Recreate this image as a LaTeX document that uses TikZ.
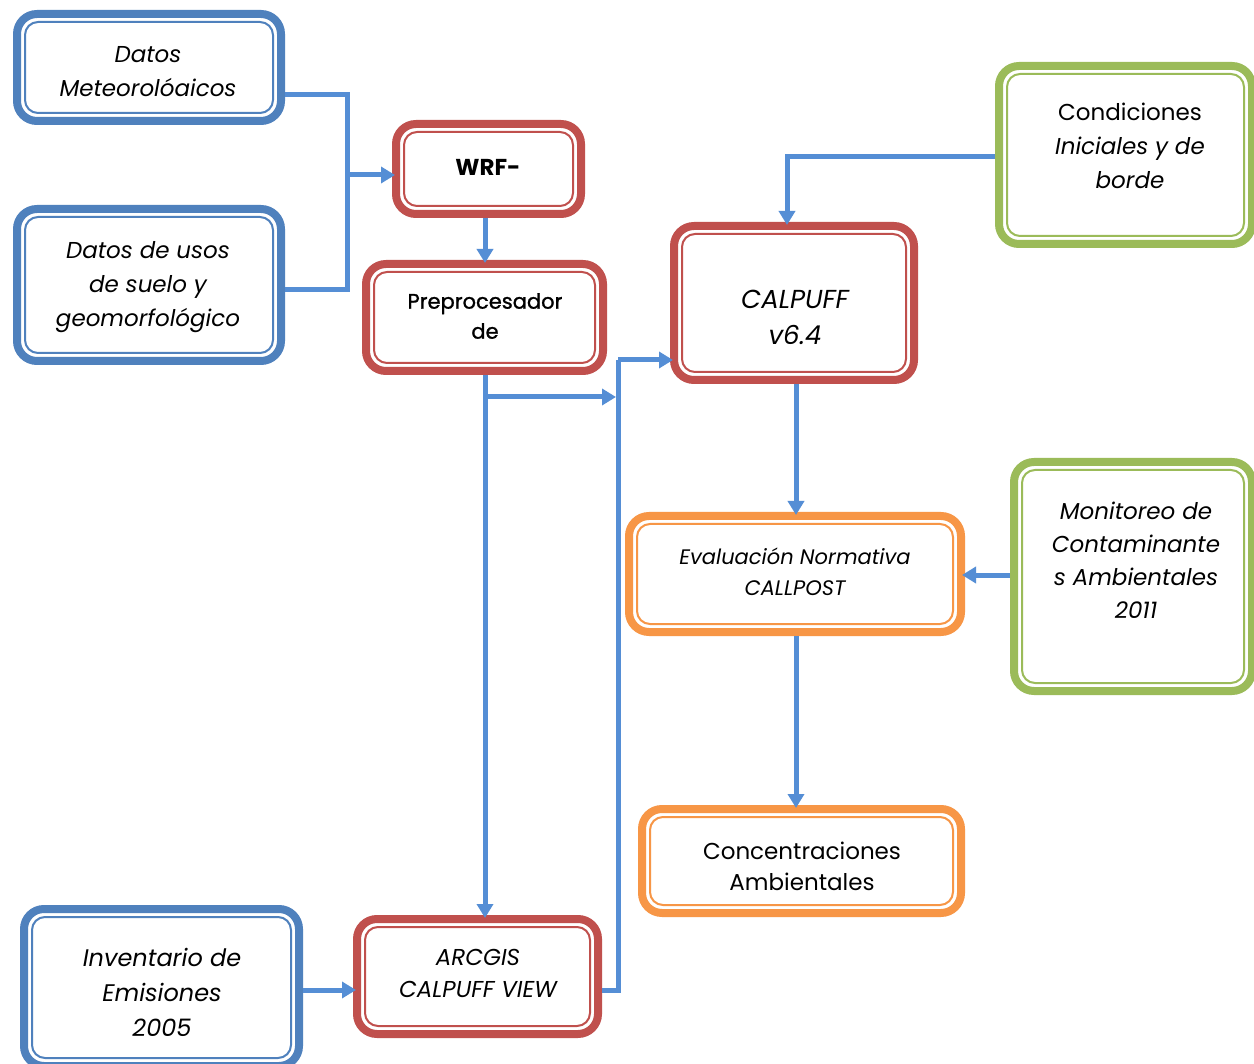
\documentclass[tikz,border=0pt]{standalone}
\usepackage{fontspec}
\setmainfont{Poppins}
\newfontfamily\popsemi{Poppins}[FakeBold=1.2]
\usetikzlibrary{arrows.meta}
\definecolor{bbox}{RGB}{79,129,189}
\definecolor{rbox}{RGB}{192,80,77}
\definecolor{gbox}{RGB}{155,187,89}
\definecolor{obox}{RGB}{247,150,70}
\definecolor{lineblue}{RGB}{85,142,213}
\tikzset{
  box/.style={draw=#1, line width=8pt, rounded corners=20pt, inner sep=0pt, fill=white},
  inbox/.style={draw=#1, line width=2pt, rounded corners=13pt},
  conn/.style={draw=lineblue, line width=5pt},
  arr/.style={conn, -{Triangle[length=14pt,width=16pt]}},
  txt/.style={align=center, inner sep=0pt, font=\itshape\fontsize{23}{34}\selectfont},
  txtup/.style={align=center, inner sep=0pt, font=\upshape\fontsize{23}{34}\selectfont},
}
\newcommand\dbox[6]{%
  \pgfmathsetmacro\bw{#5-#3-8}\pgfmathsetmacro\bh{#6-#4-8}%
  \pgfmathsetmacro\bx{(#3+#5)/2}\pgfmathsetmacro\by{(#4+#6)/2}%
  \pgfmathsetmacro\ixa{#3+12}\pgfmathsetmacro\iya{#4+12}%
  \pgfmathsetmacro\ixb{#5-12}\pgfmathsetmacro\iyb{#6-12}%
  \node[box=#2, minimum width=\bw pt, minimum height=\bh pt] (#1) at (\bx,\by) {};
  \draw[inbox=#2] (\ixa,\iya) rectangle (\ixb,\iyb);
}
\begin{document}
\begin{tikzpicture}[x=1pt,y=-1pt]
\clip (0,0) rectangle (1254,1064);
\fill[white] (0,0) rectangle (1254,1064);
% boxes
\dbox{A}{bbox}{13}{10}{285}{125}
\dbox{B}{bbox}{13}{205}{285}{365}
\dbox{C}{rbox}{392}{120}{585}{218}
\dbox{D}{rbox}{362}{260}{607}{375}
\dbox{E}{rbox}{670}{222}{918}{384}
\dbox{F}{gbox}{995}{62}{1256}{248}
\dbox{G}{gbox}{1010}{458}{1256}{695}
\dbox{H}{obox}{625}{512}{965}{636}
\dbox{I}{obox}{638}{805}{965}{917}
\dbox{J}{bbox}{20}{905}{303}{1070}
\dbox{K}{rbox}{353}{915}{602}{1038}
% texts
\node[txt] (tA) at (148,72) {Datos\\Meteorolóaicos};
\node[txt] (tB) at (148,287) {Datos de usos\\de suelo y\\geomorfológico};
\node[txtup, font=\bfseries\fontsize{23}{30}\selectfont] (tC) at (488,167) {WRF-};
\node[txtup, font=\popsemi\fontsize{21}{30}\selectfont] (tD) at (485,316) {Preprocesador\\de};
\node[txt, font=\itshape\fontsize{26}{36}\selectfont] (tE) at (795,317) {CALPUFF\\v6.4};
\node[txt] (tF) at (1130,146) {\upshape Condiciones\\Iniciales y de\\borde};
\node[txt, font=\itshape\fontsize{23}{33}\selectfont] (tG) at (1136,560) {Monitoreo de\\Contaminante\\s Ambientales\\2011};
\node[txt, font=\itshape\fontsize{21}{31}\selectfont] (tH) at (795,572) {Evaluación Normativa\\CALLPOST};
\node[txtup, font=\upshape\fontsize{23}{31}\selectfont] (tI) at (802,866) {Concentraciones\\Ambientales};
\node[txt, font=\itshape\fontsize{24}{35}\selectfont] (tJ) at (162,992) {Inventario de\\Emisiones\\2005};
\node[txt, font=\itshape\fontsize{23}{32}\selectfont] (tK) at (478,973) {ARCGIS\\CALPUFF VIEW};
% connectors
\coordinate (m1) at (347,95);
\coordinate (m2) at (347,175);
\coordinate (bj) at (347,290);
\draw[conn] (A.east |- m1) -- (m1) -- (bj) -- (B.east |- bj);
\draw[arr, shorten >=-3pt] (m2) -- (C.west |- m2);
\coordinate (wc) at (485,218);
\draw[arr, shorten >=-3pt] (wc) -- (wc |- D.north);
\coordinate (pd) at (485,375);
\coordinate (br) at (485,397);
\coordinate (bre) at (616,397);
\draw[arr, shorten >=-3pt] (pd) -- (pd |- K.north);
\draw[arr] (br) -- (bre);
\coordinate (bus) at (618,360);
\coordinate (busb) at (618,990);
\draw[conn] (K.east |- busb) -- (busb) -- (bus);
\draw[arr, shorten >=-3pt] (bus) -- (E.west |- bus);
\coordinate (c1) at (787,157);
\draw[arr, shorten >=-3pt] (F.west |- c1) -- (c1) -- (c1 |- E.north);
\coordinate (e1) at (796,384);
\draw[arr, shorten >=-3pt] (e1) -- (e1 |- H.north);
\coordinate (g1) at (1010,575);
\draw[arr, shorten >=-3pt] (g1) -- (H.east |- g1);
\coordinate (h1) at (796,636);
\draw[arr, shorten >=-3pt] (h1) -- (h1 |- I.north);
\coordinate (iy) at (0,990);
\draw[arr, shorten >=-3pt] (J.east |- iy) -- (K.west |- iy);
\end{tikzpicture}
\end{document}
